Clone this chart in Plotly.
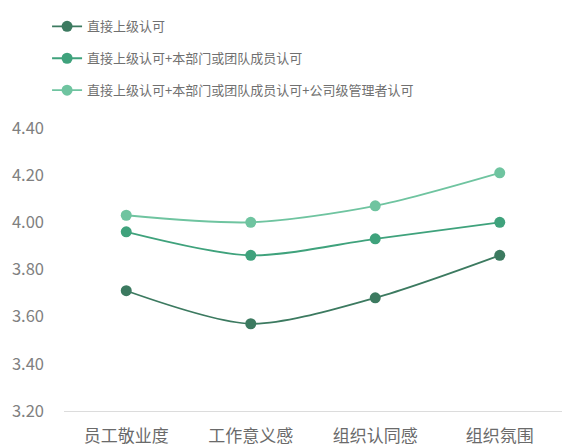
import plotly.graph_objects as go

categories = ["员工敬业度", "工作意义感", "组织认同感", "组织氛围"]
series_names = [
    "直接上级认可",
    "直接上级认可+本部门或团队成员认可",
    "直接上级认可+本部门或团队成员认可+公司级管理者认可",
]
s1 = [3.71, 3.57, 3.68, 3.86]
s2 = [3.96, 3.86, 3.93, 4.00]
s3 = [4.03, 4.00, 4.07, 4.21]
y_ticks = [3.2, 3.4, 3.6, 3.8, 4.0, 4.2, 4.4]

colors = ["#3c7a60", "#3fa27c", "#6fc4a0"]
font_family = "Noto Sans CJK SC, Noto Sans, sans-serif"

fig = go.Figure()
for i, (name, vals) in enumerate(zip(series_names, [s1, s2, s3])):
    fig.add_trace(go.Scatter(
        x=categories, y=vals, name=name, mode="lines+markers",
        line=dict(color=colors[i], width=1.8, shape="spline", smoothing=0.8),
        marker=dict(color=colors[i], size=11),
        legendgroup=f"g{i}",
    ))

fig.update_layout(
    width=575, height=448,
    margin=dict(l=56, r=21, t=120, b=45, autoexpand=False),
    paper_bgcolor="white", plot_bgcolor="white",
    font=dict(family=font_family, size=13, color="#777777"),
    showlegend=True,
    legend=dict(
        x=-0.034, y=1.412, xanchor="left", yanchor="top",
        orientation="v", tracegroupgap=12,
        font=dict(size=13, color="#707070"),
        bgcolor="rgba(0,0,0,0)",
    ),
    xaxis=dict(
        type="category", range=[-0.5, 3.5],
        showgrid=False, showline=True, linecolor="#dcdcdc", linewidth=1,
        ticks="", tickfont=dict(size=17, color="#6a6a6a"),
        ticklabelstandoff=10,
        zeroline=False, automargin=False,
    ),
    yaxis=dict(
        range=[3.2, 4.4], tickvals=y_ticks, tickformat=".2f",
        showgrid=False, showline=False, zeroline=False, ticks="",
        ticklabelstandoff=19, automargin=False,
        tickfont=dict(size=16.5, color="#808080"),
    ),
)

fig.write_html("out.html")
